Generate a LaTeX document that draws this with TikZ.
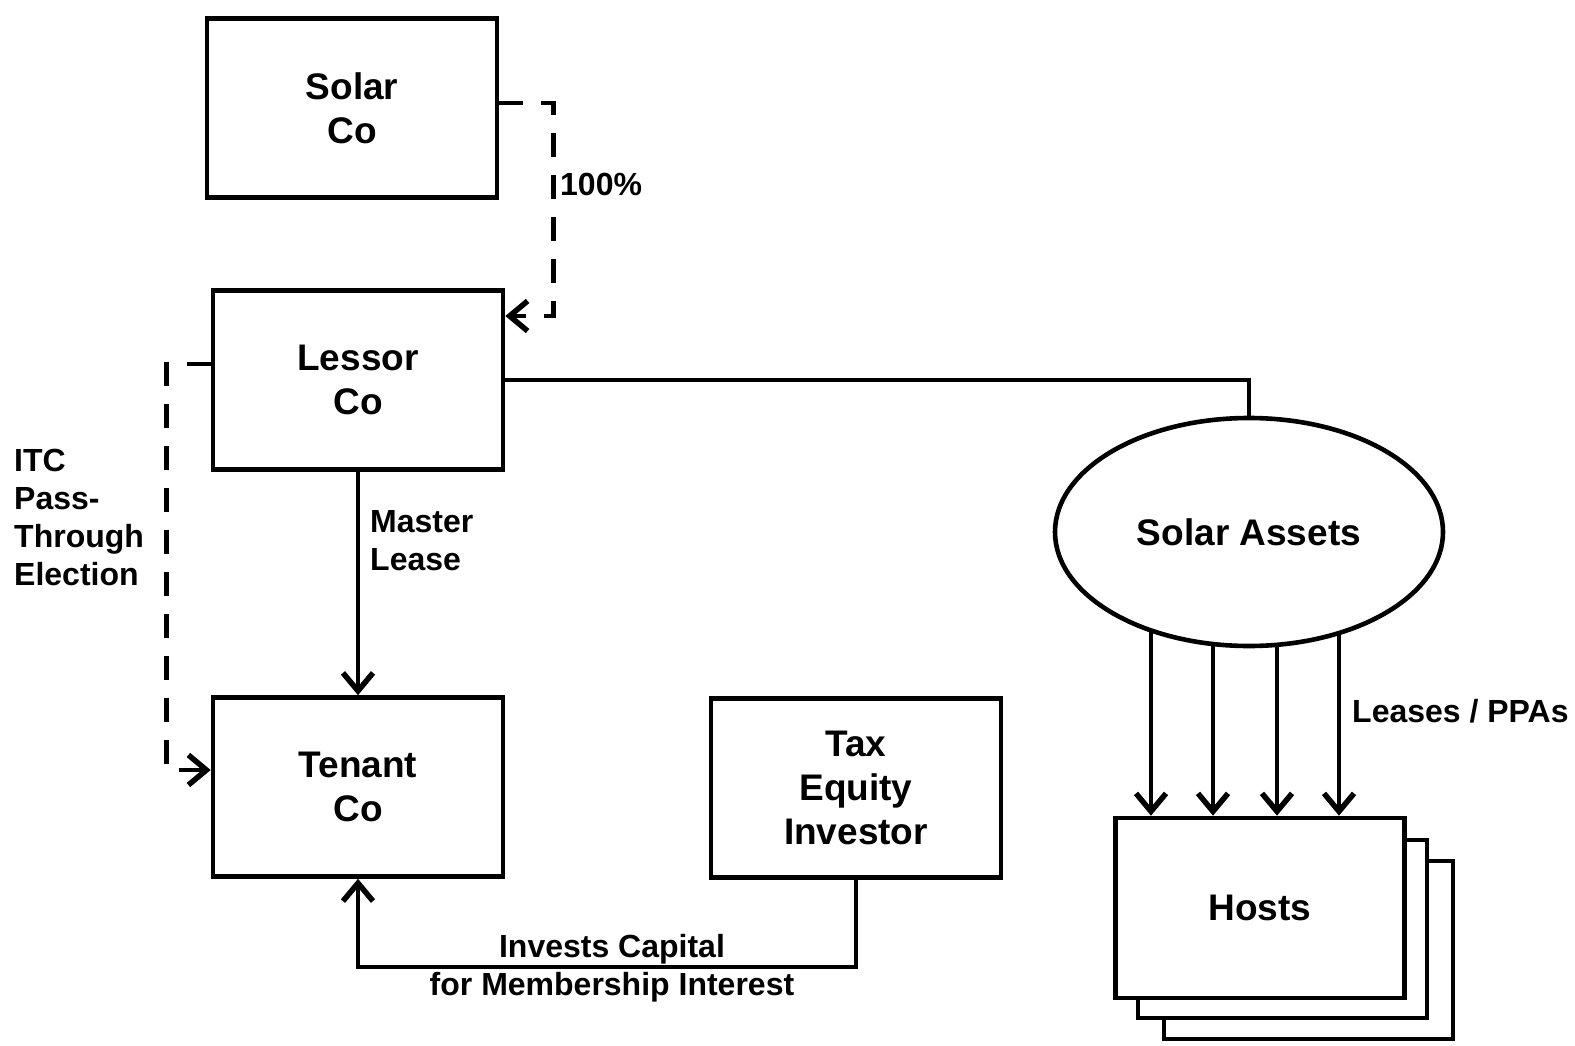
\documentclass[tikz,border=0pt]{standalone}
\usepackage{fontspec}
\setmainfont{Liberation Sans}
\usetikzlibrary{arrows.meta,shapes.geometric,calc}
\tikzset{
  box/.style={draw, line width=4.6pt, fill=white, rectangle, minimum width=290pt, minimum height=179pt, inner sep=0pt, align=center, font=\fontsize{37}{44}\selectfont\bfseries},
  oval/.style={draw, line width=4.6pt, fill=white, ellipse, minimum width=388pt, minimum height=228pt, inner sep=0pt, font=\fontsize{37}{44}\selectfont\bfseries},
  lbl/.style={inner sep=0pt, font=\fontsize{32}{38}\selectfont\bfseries},
  conn/.style={line width=4.6pt},
  tip/.style={-{Straight Barb[length=18pt,width=30pt,line width=5.5pt]}},
  arr/.style={line width=4.6pt, tip},
  dsh/.style={line width=4.6pt, dash pattern=on 24pt off 18pt},
}
\begin{document}
\begin{tikzpicture}[x=1pt,y=-1pt]
\useasboundingbox (0,0) rectangle (1575,1046);
\fill[white] (0,0) rectangle (1575,1046);
% boxes
\node[box] (solar) at (352,108) {Solar\\Co};
\node[box] (lessor) at (358,380) {Lessor\\Co};
\node[box] (tenant) at (358,787) {Tenant\\Co};
\node[box] (tax) at (856,788) {Tax\\Equity\\Investor};
\node[oval] (assets) at (1249,532) {Solar Assets};
\node[box, minimum width=289pt, minimum height=178pt] (hosts3) at (1308.5,950) {};
\node[box, minimum width=289pt, minimum height=178pt] (hosts2) at (1282.5,929) {};
\node[box, minimum width=289pt, minimum height=180pt] (hosts) at (1260,908) {Hosts};
% connectors
\draw[dsh, tip] ([yshift=5pt]solar.east) -- ++(54,0) |- ([yshift=64pt]lessor.east);
\draw[conn] (lessor.east) -| (assets.north);
\draw[arr] (lessor.south) -- (tenant.north);
\draw[dsh, tip] ([yshift=16pt]lessor.west) -- ++(-44,0) |- ([yshift=17pt]tenant.west);
\draw[arr] (tax.south) -- ++(0,87) -| (tenant.south);
\coordinate (t1) at ([shift={(-98,98.4)}]assets.center);
\coordinate (t2) at ([shift={(-36,112)}]assets.center);
\coordinate (t3) at ([shift={(28,112.8)}]assets.center);
\coordinate (t4) at ([shift={(90,101)}]assets.center);
\foreach \t in {t1,t2,t3,t4} \draw[arr] (\t) -- (\t |- hosts.north);
% labels
\node[lbl, anchor=west] (l100) at (560,184) {100\%};
\node[lbl, anchor=west, align=left] (lmaster) at (370,541) {Master\\Lease};
\node[lbl, anchor=west, align=left] (litc) at (14,517) {ITC\\Pass-\\Through\\Election};
\node[lbl, align=center] (linv) at (612,968) {Invests Capital\\for Membership Interest};
\node[lbl, anchor=west] (llease) at (1352,711) {Leases / PPAs};
\end{tikzpicture}
\end{document}
